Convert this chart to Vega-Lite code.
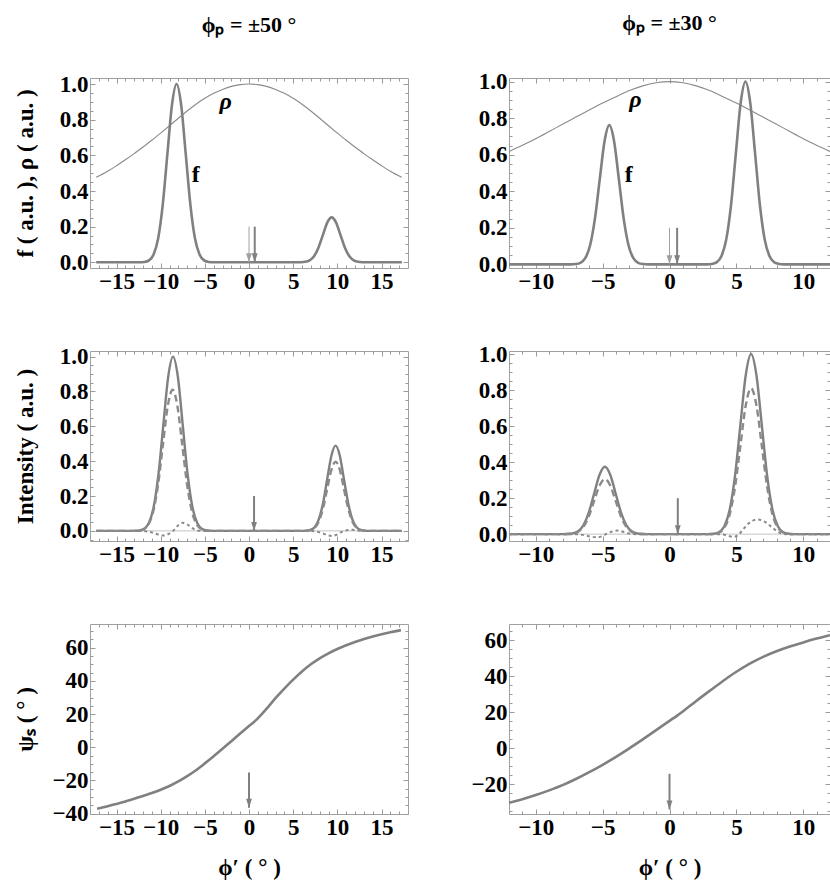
{
  "$schema": "https://vega.github.io/schema/vega-lite/v6.json",
  "padding": {"left": 13, "top": 11, "right": 0, "bottom": 0},
  "autosize": {"type": "pad"},
  "bounds": "flush",
  "columns": 2,
  "spacing": {"row": 83, "column": 101},
  "resolve": {"scale": {"x": "independent", "y": "independent"}},
  "datasets": {
    "tl_rho": [{"x":-17.3,"y":0.477},{"x":-16,"y":0.511},{"x":-15,"y":0.542},{"x":-14,"y":0.575},{"x":-13,"y":0.61},{"x":-12,"y":0.647},{"x":-11,"y":0.685},{"x":-10,"y":0.725},{"x":-9,"y":0.766},{"x":-8,"y":0.808},{"x":-7,"y":0.849},{"x":-6,"y":0.887},{"x":-5,"y":0.92},{"x":-4,"y":0.948},{"x":-3,"y":0.97},{"x":-2,"y":0.987},{"x":-1,"y":0.997},{"x":0,"y":1.0},{"x":1,"y":0.997},{"x":2,"y":0.987},{"x":3,"y":0.97},{"x":4,"y":0.948},{"x":5,"y":0.92},{"x":6,"y":0.887},{"x":7,"y":0.849},{"x":8,"y":0.808},{"x":9,"y":0.766},{"x":10,"y":0.725},{"x":11,"y":0.685},{"x":12,"y":0.647},{"x":13,"y":0.61},{"x":14,"y":0.575},{"x":15,"y":0.542},{"x":16,"y":0.511},{"x":17.3,"y":0.477}],
    "tl_f": [{"x":-17.3,"y":0},{"x":-12.4,"y":0},{"x":-11.84,"y":0.002},{"x":-11.32,"y":0.011},{"x":-10.8,"y":0.044},{"x":-10.28,"y":0.135},{"x":-9.76,"y":0.325},{"x":-9.24,"y":0.607},{"x":-8.72,"y":0.883},{"x":-8.2,"y":1.0},{"x":-7.68,"y":0.883},{"x":-7.16,"y":0.607},{"x":-6.64,"y":0.325},{"x":-6.12,"y":0.135},{"x":-5.6,"y":0.044},{"x":-5.08,"y":0.011},{"x":-4.56,"y":0.002},{"x":-4.0,"y":0},{"x":5.36,"y":0},{"x":5.86,"y":0.0006},{"x":6.36,"y":0.0028},{"x":6.86,"y":0.0111},{"x":7.36,"y":0.0341},{"x":7.86,"y":0.0818},{"x":8.36,"y":0.1528},{"x":8.86,"y":0.2224},{"x":9.36,"y":0.252},{"x":9.86,"y":0.2224},{"x":10.36,"y":0.1528},{"x":10.86,"y":0.0818},{"x":11.36,"y":0.0341},{"x":11.86,"y":0.0111},{"x":12.36,"y":0.0028},{"x":12.86,"y":0.0006},{"x":13.36,"y":0},{"x":17.3,"y":0}],
    "tr_rho": [{"x":-12,"y":0.618},{"x":-11,"y":0.652},{"x":-10,"y":0.688},{"x":-9,"y":0.727},{"x":-8,"y":0.767},{"x":-7,"y":0.806},{"x":-6,"y":0.845},{"x":-5,"y":0.883},{"x":-4,"y":0.918},{"x":-3,"y":0.951},{"x":-2,"y":0.977},{"x":-1,"y":0.994},{"x":0,"y":1.0},{"x":1,"y":0.994},{"x":2,"y":0.977},{"x":3,"y":0.951},{"x":4,"y":0.918},{"x":5,"y":0.883},{"x":6,"y":0.845},{"x":7,"y":0.806},{"x":8,"y":0.767},{"x":9,"y":0.727},{"x":10,"y":0.688},{"x":11,"y":0.652},{"x":12,"y":0.618}],
    "tr_f": [{"x":-12,"y":0},{"x":-7.38,"y":0},{"x":-7.02,"y":0.0017},{"x":-6.66,"y":0.0085},{"x":-6.3,"y":0.0335},{"x":-5.94,"y":0.1031},{"x":-5.58,"y":0.2474},{"x":-5.22,"y":0.4622},{"x":-4.86,"y":0.6725},{"x":-4.5,"y":0.762},{"x":-4.14,"y":0.6725},{"x":-3.78,"y":0.4622},{"x":-3.42,"y":0.2474},{"x":-3.06,"y":0.1031},{"x":-2.7,"y":0.0335},{"x":-2.34,"y":0.0085},{"x":-1.98,"y":0.0017},{"x":-1.62,"y":0},{"x":2.8,"y":0},{"x":3.16,"y":0.0022},{"x":3.52,"y":0.0111},{"x":3.88,"y":0.0439},{"x":4.24,"y":0.1353},{"x":4.6,"y":0.3247},{"x":4.96,"y":0.6065},{"x":5.32,"y":0.8825},{"x":5.68,"y":1.0},{"x":6.04,"y":0.8825},{"x":6.4,"y":0.6065},{"x":6.76,"y":0.3247},{"x":7.12,"y":0.1353},{"x":7.48,"y":0.0439},{"x":7.84,"y":0.0111},{"x":8.2,"y":0.0022},{"x":8.56,"y":0},{"x":12,"y":0}],
    "ml_solid": [{"x":-17.3,"y":0},{"x":-13.0,"y":0},{"x":-12.45,"y":0.002},{"x":-11.9,"y":0.011},{"x":-11.35,"y":0.044},{"x":-10.8,"y":0.135},{"x":-10.25,"y":0.325},{"x":-9.7,"y":0.607},{"x":-9.15,"y":0.883},{"x":-8.6,"y":1.0},{"x":-8.05,"y":0.883},{"x":-7.5,"y":0.607},{"x":-6.95,"y":0.325},{"x":-6.4,"y":0.135},{"x":-5.85,"y":0.044},{"x":-5.3,"y":0.011},{"x":-4.75,"y":0.002},{"x":-4.2,"y":0},{"x":6.0,"y":0},{"x":6.48,"y":0.0011},{"x":6.95,"y":0.0054},{"x":7.43,"y":0.0215},{"x":7.9,"y":0.0662},{"x":8.38,"y":0.1588},{"x":8.85,"y":0.2966},{"x":9.33,"y":0.4315},{"x":9.8,"y":0.489},{"x":10.28,"y":0.4315},{"x":10.75,"y":0.2966},{"x":11.23,"y":0.1588},{"x":11.7,"y":0.0662},{"x":12.18,"y":0.0215},{"x":12.65,"y":0.0054},{"x":13.13,"y":0.0011},{"x":13.6,"y":0},{"x":17.3,"y":0}],
    "ml_dashed": [{"x":-17.3,"y":0},{"x":-13.05,"y":0},{"x":-12.5,"y":0.0018},{"x":-11.95,"y":0.009},{"x":-11.4,"y":0.0356},{"x":-10.85,"y":0.1096},{"x":-10.3,"y":0.263},{"x":-9.75,"y":0.4913},{"x":-9.2,"y":0.7148},{"x":-8.65,"y":0.81},{"x":-8.1,"y":0.7148},{"x":-7.55,"y":0.4913},{"x":-7.0,"y":0.263},{"x":-6.45,"y":0.1096},{"x":-5.9,"y":0.0356},{"x":-5.35,"y":0.009},{"x":-4.8,"y":0.0018},{"x":-4.25,"y":0},{"x":6.0,"y":0},{"x":6.48,"y":0.0009},{"x":6.95,"y":0.0044},{"x":7.43,"y":0.0174},{"x":7.9,"y":0.0537},{"x":8.38,"y":0.1289},{"x":8.85,"y":0.2408},{"x":9.33,"y":0.3504},{"x":9.8,"y":0.397},{"x":10.28,"y":0.3504},{"x":10.75,"y":0.2408},{"x":11.23,"y":0.1289},{"x":11.7,"y":0.0537},{"x":12.18,"y":0.0174},{"x":12.65,"y":0.0044},{"x":13.13,"y":0.0009},{"x":13.6,"y":0},{"x":17.3,"y":0}],
    "ml_dotted": [{"x":-17.3,"y":0},{"x":-12.5,"y":0},{"x":-11.5,"y":-0.003},{"x":-10.8,"y":-0.012},{"x":-10.2,"y":-0.022},{"x":-9.6,"y":-0.026},{"x":-9.1,"y":-0.017},{"x":-8.6,"y":0.0},{"x":-8.0,"y":0.032},{"x":-7.5,"y":0.046},{"x":-7.0,"y":0.038},{"x":-6.5,"y":0.018},{"x":-6.0,"y":0.005},{"x":-5.5,"y":0},{"x":7.0,"y":0},{"x":7.6,"y":-0.004},{"x":8.3,"y":-0.014},{"x":8.9,"y":-0.025},{"x":9.4,"y":-0.029},{"x":9.9,"y":-0.022},{"x":10.4,"y":-0.008},{"x":10.8,"y":0.0},{"x":11.3,"y":0.005},{"x":11.7,"y":0.006},{"x":12.2,"y":0.003},{"x":12.8,"y":0},{"x":17.3,"y":0}],
    "mr_solid": [{"x":-12,"y":0},{"x":-8.03,"y":0},{"x":-7.63,"y":0.0008},{"x":-7.23,"y":0.0042},{"x":-6.83,"y":0.0164},{"x":-6.43,"y":0.0506},{"x":-6.03,"y":0.1214},{"x":-5.63,"y":0.2268},{"x":-5.23,"y":0.3301},{"x":-4.83,"y":0.374},{"x":-4.43,"y":0.3301},{"x":-4.03,"y":0.2268},{"x":-3.63,"y":0.1214},{"x":-3.23,"y":0.0506},{"x":-2.83,"y":0.0164},{"x":-2.43,"y":0.0042},{"x":-2.03,"y":0.0008},{"x":-1.63,"y":0},{"x":2.9,"y":0},{"x":3.3,"y":0.0022},{"x":3.7,"y":0.0111},{"x":4.1,"y":0.0439},{"x":4.5,"y":0.1353},{"x":4.9,"y":0.3247},{"x":5.3,"y":0.6065},{"x":5.7,"y":0.8825},{"x":6.1,"y":1.0},{"x":6.5,"y":0.8825},{"x":6.9,"y":0.6065},{"x":7.3,"y":0.3247},{"x":7.7,"y":0.1353},{"x":8.1,"y":0.0439},{"x":8.5,"y":0.0111},{"x":8.9,"y":0.0022},{"x":9.3,"y":0},{"x":12,"y":0}],
    "mr_dashed": [{"x":-12,"y":0},{"x":-8.03,"y":0},{"x":-7.63,"y":0.0007},{"x":-7.23,"y":0.0034},{"x":-6.83,"y":0.0134},{"x":-6.43,"y":0.0414},{"x":-6.03,"y":0.0994},{"x":-5.63,"y":0.1857},{"x":-5.23,"y":0.27},{"x":-4.83,"y":0.306},{"x":-4.43,"y":0.27},{"x":-4.03,"y":0.1857},{"x":-3.63,"y":0.0994},{"x":-3.23,"y":0.0414},{"x":-2.83,"y":0.0134},{"x":-2.43,"y":0.0034},{"x":-2.03,"y":0.0007},{"x":-1.63,"y":0},{"x":2.9,"y":0},{"x":3.3,"y":0.0018},{"x":3.7,"y":0.009},{"x":4.1,"y":0.0356},{"x":4.5,"y":0.1096},{"x":4.9,"y":0.263},{"x":5.3,"y":0.4913},{"x":5.7,"y":0.7148},{"x":6.1,"y":0.81},{"x":6.5,"y":0.7148},{"x":6.9,"y":0.4913},{"x":7.3,"y":0.263},{"x":7.7,"y":0.1096},{"x":8.1,"y":0.0356},{"x":8.5,"y":0.009},{"x":8.9,"y":0.0018},{"x":9.3,"y":0},{"x":12,"y":0}],
    "mr_dotted": [{"x":-12,"y":0},{"x":-7.2,"y":0},{"x":-6.5,"y":-0.004},{"x":-5.9,"y":-0.013},{"x":-5.4,"y":-0.018},{"x":-5.0,"y":-0.01},{"x":-4.75,"y":0.0},{"x":-4.4,"y":0.012},{"x":-3.9,"y":0.02},{"x":-3.4,"y":0.012},{"x":-2.9,"y":0.002},{"x":-2.5,"y":0},{"x":3.9,"y":0},{"x":4.3,"y":-0.008},{"x":4.8,"y":-0.015},{"x":5.2,"y":0.0},{"x":5.6,"y":0.035},{"x":6.1,"y":0.07},{"x":6.6,"y":0.081},{"x":7.1,"y":0.07},{"x":7.6,"y":0.042},{"x":8.0,"y":0.018},{"x":8.4,"y":0.003},{"x":8.7,"y":0},{"x":12,"y":0}],
    "bl_psi": [{"x":-17.2,"y":-37.0},{"x":-16,"y":-35.5},{"x":-14,"y":-32.7},{"x":-12,"y":-29.3},{"x":-11,"y":-27.6},{"x":-10,"y":-25.6},{"x":-9,"y":-23.3},{"x":-8,"y":-20.6},{"x":-7,"y":-17.4},{"x":-6,"y":-13.8},{"x":-5,"y":-9.7},{"x":-4,"y":-5.4},{"x":-3,"y":-0.9},{"x":-2,"y":3.7},{"x":-1,"y":8.3},{"x":0,"y":12.8},{"x":0.7,"y":15.9},{"x":1.5,"y":20.3},{"x":2,"y":23.3},{"x":3,"y":29.6},{"x":4,"y":35.4},{"x":5,"y":40.8},{"x":6,"y":45.7},{"x":7,"y":50.0},{"x":8,"y":53.6},{"x":9,"y":56.6},{"x":10,"y":59.2},{"x":12,"y":63.4},{"x":14,"y":66.7},{"x":16,"y":69.3},{"x":17.2,"y":70.6}],
    "br_psi": [{"x":-12,"y":-30.2},{"x":-11,"y":-28.3},{"x":-10,"y":-26.0},{"x":-9,"y":-23.4},{"x":-8,"y":-20.5},{"x":-7,"y":-17.1},{"x":-6,"y":-13.3},{"x":-5,"y":-9.2},{"x":-4,"y":-4.8},{"x":-3,"y":-0.1},{"x":-2,"y":4.9},{"x":-1,"y":10.0},{"x":0,"y":15.2},{"x":0.6,"y":18.2},{"x":1,"y":20.4},{"x":2,"y":26.2},{"x":3,"y":31.8},{"x":4,"y":37.3},{"x":5,"y":42.4},{"x":6,"y":46.9},{"x":7,"y":50.7},{"x":8,"y":53.8},{"x":9,"y":56.4},{"x":10,"y":58.7},{"x":11,"y":60.8},{"x":12,"y":62.7}],
    "arrows": [
      {"panel":"tl","kind":"thin","x":0,"y":0,"y2":0.2},
      {"panel":"tl","kind":"thick","x":0.65,"y":0,"y2":0.2},
      {"panel":"tr","kind":"thin","x":0,"y":0,"y2":0.2},
      {"panel":"tr","kind":"thick","x":0.57,"y":0,"y2":0.2},
      {"panel":"ml","kind":"thick","x":0.57,"y":0,"y2":0.2},
      {"panel":"mr","kind":"thick","x":0.62,"y":0,"y2":0.2},
      {"panel":"bl","kind":"thick","x":0,"y":-36.5,"y2":-15.2},
      {"panel":"br","kind":"thick","x":0,"y":-34,"y2":-14.2}
    ],
    "labels": [
      {"panel":"tl","t":"ρ","x":-2.64,"y":0.9},
      {"panel":"tl","t":"f","x":-6.03,"y":0.49},
      {"panel":"tr","t":"ρ","x":-2.54,"y":0.9},
      {"panel":"tr","t":"f","x":-3.04,"y":0.49}
    ],
    "anchor": [{"x": 0, "y": 0}]
  },
  "concat": [
    {
      "width": 318, "height": 190,
      "title": {"text": "ϕₚ = ±50 °", "frame": "group", "offset": 36, "anchor": "middle"},
      "resolve": {"axis": {"x": "independent", "y": "independent"}},
      "layer": [
        {
          "encoding": {
            "x": {"field": "x", "type": "quantitative", "scale": {"domain": [-18, 18], "nice": false, "zero": false}, "axis": {"values": [-15,-10,-5,0,5,10,15], "labelExpr": "datum.value < 0 ? '−' + abs(datum.value) : '' + datum.value", "title": null}},
            "y": {"field": "y", "type": "quantitative", "scale": {"domain": [-0.032, 1.034], "nice": false, "zero": false}, "axis": {"values": [0,0.2,0.4,0.6,0.8,1], "format": ".1f", "title": "f ( a.u. ),  ρ ( a.u. )", "minExtent": 45, "maxExtent": 45, "titlePadding": 8}}
          },
          "layer": [
            {"data": {"name": "tl_rho"}, "mark": {"type": "line", "color": "#8a8a8a", "strokeWidth": 1.1, "interpolate": "monotone"}},
            {"data": {"name": "tl_f"}, "mark": {"type": "line", "color": "#808080", "strokeWidth": 2.6, "interpolate": "monotone"}},
            {"data": {"name": "arrows"}, "transform": [{"filter": "datum.panel === 'tl' && datum.kind === 'thin'"}], "mark": {"type": "rule", "color": "#a0a0a0", "strokeWidth": 1}, "encoding": {"y2": {"field": "y2"}}},
            {"data": {"name": "arrows"}, "transform": [{"filter": "datum.panel === 'tl' && datum.kind === 'thin'"}], "mark": {"type": "point", "shape": "M-0.65,-2L0.65,-2L0,0Z", "filled": true, "size": 81, "color": "#a0a0a0", "opacity": 1}},
            {"data": {"name": "arrows"}, "transform": [{"filter": "datum.panel === 'tl' && datum.kind === 'thick'"}], "mark": {"type": "rule", "color": "#808080", "strokeWidth": 2}, "encoding": {"y2": {"field": "y2"}}},
            {"data": {"name": "arrows"}, "transform": [{"filter": "datum.panel === 'tl' && datum.kind === 'thick'"}], "mark": {"type": "point", "shape": "M-0.65,-2L0.65,-2L0,0Z", "filled": true, "size": 81, "color": "#808080", "opacity": 1}},
            {"data": {"name": "labels"}, "transform": [{"filter": "datum.panel === 'tl' && datum.t === 'ρ'"}], "mark": {"type": "text", "font": "Liberation Serif", "fontSize": 24, "fontWeight": "bold", "fontStyle": "italic", "color": "#000"}, "encoding": {"text": {"field": "t"}}},
            {"data": {"name": "labels"}, "transform": [{"filter": "datum.panel === 'tl' && datum.t === 'f'"}], "mark": {"type": "text", "font": "Liberation Serif", "fontSize": 24, "fontWeight": "bold", "color": "#000"}, "encoding": {"text": {"field": "t"}}}
          ]
        },
        {"data": {"name": "anchor"}, "mark": {"type": "point", "opacity": 0},
         "encoding": {"x": {"field": "x", "type": "quantitative", "scale": {"domain": [-18, 18], "nice": false, "zero": false}, "axis": {"orient": "bottom", "values": [-17,-16,-14,-13,-12,-11,-9,-8,-7,-6,-4,-3,-2,-1,1,2,3,4,6,7,8,9,11,12,13,14,16,17], "labels": false, "tickSize": -3, "title": null}},
                      "y": {"field": "y", "type": "quantitative", "scale": {"domain": [-0.032, 1.034], "nice": false, "zero": false}, "axis": {"orient": "left", "values": [0.05,0.1,0.15,0.25,0.3,0.35,0.45,0.5,0.55,0.65,0.7,0.75,0.85,0.9,0.95], "labels": false, "tickSize": -3, "title": null}}}},
        {"data": {"name": "anchor"}, "mark": {"type": "point", "opacity": 0},
         "encoding": {"x": {"field": "x", "type": "quantitative", "scale": {"domain": [-18, 18], "nice": false, "zero": false}, "axis": {"orient": "top", "values": [-15,-10,-5,0,5,10,15], "labels": false, "tickSize": -5, "title": null}},
                      "y": {"field": "y", "type": "quantitative", "scale": {"domain": [-0.032, 1.034], "nice": false, "zero": false}, "axis": {"orient": "right", "values": [0,0.2,0.4,0.6,0.8,1], "labels": false, "tickSize": -5, "title": null}}}},
        {"data": {"name": "anchor"}, "mark": {"type": "point", "opacity": 0},
         "encoding": {"x": {"field": "x", "type": "quantitative", "scale": {"domain": [-18, 18], "nice": false, "zero": false}, "axis": {"orient": "top", "values": [-17,-16,-14,-13,-12,-11,-9,-8,-7,-6,-4,-3,-2,-1,1,2,3,4,6,7,8,9,11,12,13,14,16,17], "labels": false, "tickSize": -3, "title": null}},
                      "y": {"field": "y", "type": "quantitative", "scale": {"domain": [-0.032, 1.034], "nice": false, "zero": false}, "axis": {"orient": "right", "values": [0.05,0.1,0.15,0.25,0.3,0.35,0.45,0.5,0.55,0.65,0.7,0.75,0.85,0.9,0.95], "labels": false, "tickSize": -3, "title": null}}}}
      ]
    },
    {
      "width": 321, "height": 190,
      "title": {"text": "ϕₚ = ±30 °", "frame": "group", "offset": 36, "anchor": "middle"},
      "resolve": {"axis": {"x": "independent", "y": "independent"}},
      "layer": [
        {
          "encoding": {
            "x": {"field": "x", "type": "quantitative", "scale": {"domain": [-12, 12], "nice": false, "zero": false}, "axis": {"values": [-10,-5,0,5,10], "labelExpr": "datum.value < 0 ? '−' + abs(datum.value) : '' + datum.value", "title": null}},
            "y": {"field": "y", "type": "quantitative", "scale": {"domain": [-0.02, 1.02], "nice": false, "zero": false}, "axis": {"values": [0,0.2,0.4,0.6,0.8,1], "format": ".1f", "title": null}}
          },
          "layer": [
            {"data": {"name": "tr_rho"}, "mark": {"type": "line", "color": "#8a8a8a", "strokeWidth": 1.1, "interpolate": "monotone"}},
            {"data": {"name": "tr_f"}, "mark": {"type": "line", "color": "#808080", "strokeWidth": 2.6, "interpolate": "monotone"}},
            {"data": {"name": "arrows"}, "transform": [{"filter": "datum.panel === 'tr' && datum.kind === 'thin'"}], "mark": {"type": "rule", "color": "#a0a0a0", "strokeWidth": 1}, "encoding": {"y2": {"field": "y2"}}},
            {"data": {"name": "arrows"}, "transform": [{"filter": "datum.panel === 'tr' && datum.kind === 'thin'"}], "mark": {"type": "point", "shape": "M-0.65,-2L0.65,-2L0,0Z", "filled": true, "size": 81, "color": "#a0a0a0", "opacity": 1}},
            {"data": {"name": "arrows"}, "transform": [{"filter": "datum.panel === 'tr' && datum.kind === 'thick'"}], "mark": {"type": "rule", "color": "#808080", "strokeWidth": 2}, "encoding": {"y2": {"field": "y2"}}},
            {"data": {"name": "arrows"}, "transform": [{"filter": "datum.panel === 'tr' && datum.kind === 'thick'"}], "mark": {"type": "point", "shape": "M-0.65,-2L0.65,-2L0,0Z", "filled": true, "size": 81, "color": "#808080", "opacity": 1}},
            {"data": {"name": "labels"}, "transform": [{"filter": "datum.panel === 'tr' && datum.t === 'ρ'"}], "mark": {"type": "text", "font": "Liberation Serif", "fontSize": 24, "fontWeight": "bold", "fontStyle": "italic", "color": "#000"}, "encoding": {"text": {"field": "t"}}},
            {"data": {"name": "labels"}, "transform": [{"filter": "datum.panel === 'tr' && datum.t === 'f'"}], "mark": {"type": "text", "font": "Liberation Serif", "fontSize": 24, "fontWeight": "bold", "color": "#000"}, "encoding": {"text": {"field": "t"}}}
          ]
        },
        {"data": {"name": "anchor"}, "mark": {"type": "point", "opacity": 0},
         "encoding": {"x": {"field": "x", "type": "quantitative", "scale": {"domain": [-12, 12], "nice": false, "zero": false}, "axis": {"orient": "bottom", "values": [-11,-9,-8,-7,-6,-4,-3,-2,-1,1,2,3,4,6,7,8,9,11], "labels": false, "tickSize": -3, "title": null}},
                      "y": {"field": "y", "type": "quantitative", "scale": {"domain": [-0.02, 1.02], "nice": false, "zero": false}, "axis": {"orient": "left", "values": [0.05,0.1,0.15,0.25,0.3,0.35,0.45,0.5,0.55,0.65,0.7,0.75,0.85,0.9,0.95], "labels": false, "tickSize": -3, "title": null}}}},
        {"data": {"name": "anchor"}, "mark": {"type": "point", "opacity": 0},
         "encoding": {"x": {"field": "x", "type": "quantitative", "scale": {"domain": [-12, 12], "nice": false, "zero": false}, "axis": {"orient": "top", "values": [-10,-5,0,5,10], "labels": false, "tickSize": -5, "title": null}},
                      "y": {"field": "y", "type": "quantitative", "scale": {"domain": [-0.02, 1.02], "nice": false, "zero": false}, "axis": {"orient": "right", "values": [0,0.2,0.4,0.6,0.8,1], "labels": false, "tickSize": -5, "title": null}}}},
        {"data": {"name": "anchor"}, "mark": {"type": "point", "opacity": 0},
         "encoding": {"x": {"field": "x", "type": "quantitative", "scale": {"domain": [-12, 12], "nice": false, "zero": false}, "axis": {"orient": "top", "values": [-11,-9,-8,-7,-6,-4,-3,-2,-1,1,2,3,4,6,7,8,9,11], "labels": false, "tickSize": -3, "title": null}},
                      "y": {"field": "y", "type": "quantitative", "scale": {"domain": [-0.02, 1.02], "nice": false, "zero": false}, "axis": {"orient": "right", "values": [0.05,0.1,0.15,0.25,0.3,0.35,0.45,0.5,0.55,0.65,0.7,0.75,0.85,0.9,0.95], "labels": false, "tickSize": -3, "title": null}}}}
      ]
    },
    {
      "width": 318, "height": 190,
      "resolve": {"axis": {"x": "independent", "y": "independent"}},
      "layer": [
        {
          "encoding": {
            "x": {"field": "x", "type": "quantitative", "scale": {"domain": [-18, 18], "nice": false, "zero": false}, "axis": {"values": [-15,-10,-5,0,5,10,15], "labelExpr": "datum.value < 0 ? '−' + abs(datum.value) : '' + datum.value", "title": null}},
            "y": {"field": "y", "type": "quantitative", "scale": {"domain": [-0.058, 1.032], "nice": false, "zero": false}, "axis": {"values": [0,0.2,0.4,0.6,0.8,1], "format": ".1f", "title": "Intensity ( a.u. )", "minExtent": 45, "maxExtent": 45, "titlePadding": 8}}
          },
          "layer": [
            {"data": {"values": [{"x": -17.3, "y": 0}, {"x": 17.3, "y": 0}]}, "mark": {"type": "line", "color": "#c4c4c4", "strokeWidth": 1}},
            {"data": {"name": "ml_solid"}, "mark": {"type": "line", "color": "#808080", "strokeWidth": 2.4, "interpolate": "monotone"}},
            {"data": {"name": "ml_dashed"}, "mark": {"type": "line", "color": "#8a8a8a", "strokeWidth": 2.4, "strokeDash": [7, 4], "interpolate": "monotone"}},
            {"data": {"name": "ml_dotted"}, "mark": {"type": "line", "color": "#8a8a8a", "strokeWidth": 2, "strokeDash": [3, 3], "interpolate": "monotone"}},
            {"data": {"name": "arrows"}, "transform": [{"filter": "datum.panel === 'ml'"}], "mark": {"type": "rule", "color": "#808080", "strokeWidth": 2}, "encoding": {"y2": {"field": "y2"}}},
            {"data": {"name": "arrows"}, "transform": [{"filter": "datum.panel === 'ml'"}], "mark": {"type": "point", "shape": "M-0.65,-2L0.65,-2L0,0Z", "filled": true, "size": 81, "color": "#808080", "opacity": 1}}
          ]
        },
        {"data": {"name": "anchor"}, "mark": {"type": "point", "opacity": 0},
         "encoding": {"x": {"field": "x", "type": "quantitative", "scale": {"domain": [-18, 18], "nice": false, "zero": false}, "axis": {"orient": "bottom", "values": [-17,-16,-14,-13,-12,-11,-9,-8,-7,-6,-4,-3,-2,-1,1,2,3,4,6,7,8,9,11,12,13,14,16,17], "labels": false, "tickSize": -3, "title": null}},
                      "y": {"field": "y", "type": "quantitative", "scale": {"domain": [-0.058, 1.032], "nice": false, "zero": false}, "axis": {"orient": "left", "values": [-0.05,0.05,0.1,0.15,0.25,0.3,0.35,0.45,0.5,0.55,0.65,0.7,0.75,0.85,0.9,0.95], "labels": false, "tickSize": -3, "title": null}}}},
        {"data": {"name": "anchor"}, "mark": {"type": "point", "opacity": 0},
         "encoding": {"x": {"field": "x", "type": "quantitative", "scale": {"domain": [-18, 18], "nice": false, "zero": false}, "axis": {"orient": "top", "values": [-15,-10,-5,0,5,10,15], "labels": false, "tickSize": -5, "title": null}},
                      "y": {"field": "y", "type": "quantitative", "scale": {"domain": [-0.058, 1.032], "nice": false, "zero": false}, "axis": {"orient": "right", "values": [0,0.2,0.4,0.6,0.8,1], "labels": false, "tickSize": -5, "title": null}}}},
        {"data": {"name": "anchor"}, "mark": {"type": "point", "opacity": 0},
         "encoding": {"x": {"field": "x", "type": "quantitative", "scale": {"domain": [-18, 18], "nice": false, "zero": false}, "axis": {"orient": "top", "values": [-17,-16,-14,-13,-12,-11,-9,-8,-7,-6,-4,-3,-2,-1,1,2,3,4,6,7,8,9,11,12,13,14,16,17], "labels": false, "tickSize": -3, "title": null}},
                      "y": {"field": "y", "type": "quantitative", "scale": {"domain": [-0.058, 1.032], "nice": false, "zero": false}, "axis": {"orient": "right", "values": [-0.05,0.05,0.1,0.15,0.25,0.3,0.35,0.45,0.5,0.55,0.65,0.7,0.75,0.85,0.9,0.95], "labels": false, "tickSize": -3, "title": null}}}}
      ]
    },
    {
      "width": 321, "height": 190,
      "resolve": {"axis": {"x": "independent", "y": "independent"}},
      "layer": [
        {
          "encoding": {
            "x": {"field": "x", "type": "quantitative", "scale": {"domain": [-12, 12], "nice": false, "zero": false}, "axis": {"values": [-10,-5,0,5,10], "labelExpr": "datum.value < 0 ? '−' + abs(datum.value) : '' + datum.value", "title": null}},
            "y": {"field": "y", "type": "quantitative", "scale": {"domain": [-0.038, 1.017], "nice": false, "zero": false}, "axis": {"values": [0,0.2,0.4,0.6,0.8,1], "format": ".1f", "title": null}}
          },
          "layer": [
            {"data": {"values": [{"x": -12, "y": 0}, {"x": 12, "y": 0}]}, "mark": {"type": "line", "color": "#c4c4c4", "strokeWidth": 1}},
            {"data": {"name": "mr_solid"}, "mark": {"type": "line", "color": "#808080", "strokeWidth": 2.4, "interpolate": "monotone"}},
            {"data": {"name": "mr_dashed"}, "mark": {"type": "line", "color": "#8a8a8a", "strokeWidth": 2.4, "strokeDash": [7, 4], "interpolate": "monotone"}},
            {"data": {"name": "mr_dotted"}, "mark": {"type": "line", "color": "#8a8a8a", "strokeWidth": 2, "strokeDash": [3, 3], "interpolate": "monotone"}},
            {"data": {"name": "arrows"}, "transform": [{"filter": "datum.panel === 'mr'"}], "mark": {"type": "rule", "color": "#808080", "strokeWidth": 2}, "encoding": {"y2": {"field": "y2"}}},
            {"data": {"name": "arrows"}, "transform": [{"filter": "datum.panel === 'mr'"}], "mark": {"type": "point", "shape": "M-0.65,-2L0.65,-2L0,0Z", "filled": true, "size": 81, "color": "#808080", "opacity": 1}}
          ]
        },
        {"data": {"name": "anchor"}, "mark": {"type": "point", "opacity": 0},
         "encoding": {"x": {"field": "x", "type": "quantitative", "scale": {"domain": [-12, 12], "nice": false, "zero": false}, "axis": {"orient": "bottom", "values": [-11,-9,-8,-7,-6,-4,-3,-2,-1,1,2,3,4,6,7,8,9,11], "labels": false, "tickSize": -3, "title": null}},
                      "y": {"field": "y", "type": "quantitative", "scale": {"domain": [-0.038, 1.017], "nice": false, "zero": false}, "axis": {"orient": "left", "values": [0.05,0.1,0.15,0.25,0.3,0.35,0.45,0.5,0.55,0.65,0.7,0.75,0.85,0.9,0.95], "labels": false, "tickSize": -3, "title": null}}}},
        {"data": {"name": "anchor"}, "mark": {"type": "point", "opacity": 0},
         "encoding": {"x": {"field": "x", "type": "quantitative", "scale": {"domain": [-12, 12], "nice": false, "zero": false}, "axis": {"orient": "top", "values": [-10,-5,0,5,10], "labels": false, "tickSize": -5, "title": null}},
                      "y": {"field": "y", "type": "quantitative", "scale": {"domain": [-0.038, 1.017], "nice": false, "zero": false}, "axis": {"orient": "right", "values": [0,0.2,0.4,0.6,0.8,1], "labels": false, "tickSize": -5, "title": null}}}},
        {"data": {"name": "anchor"}, "mark": {"type": "point", "opacity": 0},
         "encoding": {"x": {"field": "x", "type": "quantitative", "scale": {"domain": [-12, 12], "nice": false, "zero": false}, "axis": {"orient": "top", "values": [-11,-9,-8,-7,-6,-4,-3,-2,-1,1,2,3,4,6,7,8,9,11], "labels": false, "tickSize": -3, "title": null}},
                      "y": {"field": "y", "type": "quantitative", "scale": {"domain": [-0.038, 1.017], "nice": false, "zero": false}, "axis": {"orient": "right", "values": [0.05,0.1,0.15,0.25,0.3,0.35,0.45,0.5,0.55,0.65,0.7,0.75,0.85,0.9,0.95], "labels": false, "tickSize": -3, "title": null}}}}
      ]
    },
    {
      "width": 318, "height": 190,
      "resolve": {"axis": {"x": "independent", "y": "independent"}},
      "layer": [
        {
          "encoding": {
            "x": {"field": "x", "type": "quantitative", "scale": {"domain": [-18, 18], "nice": false, "zero": false}, "axis": {"values": [-15,-10,-5,0,5,10,15], "labelExpr": "datum.value < 0 ? '−' + abs(datum.value) : '' + datum.value", "title": "ϕ′ ( ° )", "minExtent": 28, "maxExtent": 28, "titlePadding": 14}},
            "y": {"field": "y", "type": "quantitative", "scale": {"domain": [-40.2, 74.3], "nice": false, "zero": false}, "axis": {"values": [-40,-20,0,20,40,60], "labelExpr": "datum.value < 0 ? '−' + abs(datum.value) : '' + datum.value", "title": "ψₛ ( ° )", "minExtent": 45, "maxExtent": 45, "titlePadding": 8}}
          },
          "layer": [
            {"data": {"name": "bl_psi"}, "mark": {"type": "line", "color": "#808080", "strokeWidth": 2.6, "interpolate": "monotone"}},
            {"data": {"name": "arrows"}, "transform": [{"filter": "datum.panel === 'bl'"}], "mark": {"type": "rule", "color": "#808080", "strokeWidth": 2}, "encoding": {"y2": {"field": "y2"}}},
            {"data": {"name": "arrows"}, "transform": [{"filter": "datum.panel === 'bl'"}], "mark": {"type": "point", "shape": "M-0.65,-2L0.65,-2L0,0Z", "filled": true, "size": 81, "color": "#808080", "opacity": 1}}
          ]
        },
        {"data": {"name": "anchor"}, "mark": {"type": "point", "opacity": 0},
         "encoding": {"x": {"field": "x", "type": "quantitative", "scale": {"domain": [-18, 18], "nice": false, "zero": false}, "axis": {"orient": "bottom", "values": [-17,-16,-14,-13,-12,-11,-9,-8,-7,-6,-4,-3,-2,-1,1,2,3,4,6,7,8,9,11,12,13,14,16,17], "labels": false, "tickSize": -3, "title": null}},
                      "y": {"field": "y", "type": "quantitative", "scale": {"domain": [-40.2, 74.3], "nice": false, "zero": false}, "axis": {"orient": "left", "values": [-35,-30,-25,-15,-10,-5,5,10,15,25,30,35,45,50,55,65,70], "labels": false, "tickSize": -3, "title": null}}}},
        {"data": {"name": "anchor"}, "mark": {"type": "point", "opacity": 0},
         "encoding": {"x": {"field": "x", "type": "quantitative", "scale": {"domain": [-18, 18], "nice": false, "zero": false}, "axis": {"orient": "top", "values": [-15,-10,-5,0,5,10,15], "labels": false, "tickSize": -5, "title": null}},
                      "y": {"field": "y", "type": "quantitative", "scale": {"domain": [-40.2, 74.3], "nice": false, "zero": false}, "axis": {"orient": "right", "values": [-40,-20,0,20,40,60], "labels": false, "tickSize": -5, "title": null}}}},
        {"data": {"name": "anchor"}, "mark": {"type": "point", "opacity": 0},
         "encoding": {"x": {"field": "x", "type": "quantitative", "scale": {"domain": [-18, 18], "nice": false, "zero": false}, "axis": {"orient": "top", "values": [-17,-16,-14,-13,-12,-11,-9,-8,-7,-6,-4,-3,-2,-1,1,2,3,4,6,7,8,9,11,12,13,14,16,17], "labels": false, "tickSize": -3, "title": null}},
                      "y": {"field": "y", "type": "quantitative", "scale": {"domain": [-40.2, 74.3], "nice": false, "zero": false}, "axis": {"orient": "right", "values": [-35,-30,-25,-15,-10,-5,5,10,15,25,30,35,45,50,55,65,70], "labels": false, "tickSize": -3, "title": null}}}}
      ]
    },
    {
      "width": 321, "height": 190,
      "resolve": {"axis": {"x": "independent", "y": "independent"}},
      "layer": [
        {
          "encoding": {
            "x": {"field": "x", "type": "quantitative", "scale": {"domain": [-12, 12], "nice": false, "zero": false}, "axis": {"values": [-10,-5,0,5,10], "labelExpr": "datum.value < 0 ? '−' + abs(datum.value) : '' + datum.value", "title": "ϕ′ ( ° )", "minExtent": 28, "maxExtent": 28, "titlePadding": 14}},
            "y": {"field": "y", "type": "quantitative", "scale": {"domain": [-36.5, 68.9], "nice": false, "zero": false}, "axis": {"values": [-20,0,20,40,60], "labelExpr": "datum.value < 0 ? '−' + abs(datum.value) : '' + datum.value", "title": null}}
          },
          "layer": [
            {"data": {"name": "br_psi"}, "mark": {"type": "line", "color": "#808080", "strokeWidth": 2.6, "interpolate": "monotone"}},
            {"data": {"name": "arrows"}, "transform": [{"filter": "datum.panel === 'br'"}], "mark": {"type": "rule", "color": "#808080", "strokeWidth": 2}, "encoding": {"y2": {"field": "y2"}}},
            {"data": {"name": "arrows"}, "transform": [{"filter": "datum.panel === 'br'"}], "mark": {"type": "point", "shape": "M-0.65,-2L0.65,-2L0,0Z", "filled": true, "size": 81, "color": "#808080", "opacity": 1}}
          ]
        },
        {"data": {"name": "anchor"}, "mark": {"type": "point", "opacity": 0},
         "encoding": {"x": {"field": "x", "type": "quantitative", "scale": {"domain": [-12, 12], "nice": false, "zero": false}, "axis": {"orient": "bottom", "values": [-11,-9,-8,-7,-6,-4,-3,-2,-1,1,2,3,4,6,7,8,9,11], "labels": false, "tickSize": -3, "title": null}},
                      "y": {"field": "y", "type": "quantitative", "scale": {"domain": [-36.5, 68.9], "nice": false, "zero": false}, "axis": {"orient": "left", "values": [-35,-30,-25,-15,-10,-5,5,10,15,25,30,35,45,50,55,65], "labels": false, "tickSize": -3, "title": null}}}},
        {"data": {"name": "anchor"}, "mark": {"type": "point", "opacity": 0},
         "encoding": {"x": {"field": "x", "type": "quantitative", "scale": {"domain": [-12, 12], "nice": false, "zero": false}, "axis": {"orient": "top", "values": [-10,-5,0,5,10], "labels": false, "tickSize": -5, "title": null}},
                      "y": {"field": "y", "type": "quantitative", "scale": {"domain": [-36.5, 68.9], "nice": false, "zero": false}, "axis": {"orient": "right", "values": [-20,0,20,40,60], "labels": false, "tickSize": -5, "title": null}}}},
        {"data": {"name": "anchor"}, "mark": {"type": "point", "opacity": 0},
         "encoding": {"x": {"field": "x", "type": "quantitative", "scale": {"domain": [-12, 12], "nice": false, "zero": false}, "axis": {"orient": "top", "values": [-11,-9,-8,-7,-6,-4,-3,-2,-1,1,2,3,4,6,7,8,9,11], "labels": false, "tickSize": -3, "title": null}},
                      "y": {"field": "y", "type": "quantitative", "scale": {"domain": [-36.5, 68.9], "nice": false, "zero": false}, "axis": {"orient": "right", "values": [-35,-30,-25,-15,-10,-5,5,10,15,25,30,35,45,50,55,65], "labels": false, "tickSize": -3, "title": null}}}}
      ]
    }
  ],
  "config": {
    "font": "Liberation Serif",
    "view": {"stroke": "#a0a0a0", "strokeWidth": 1},
    "axis": {"domain": false, "grid": false, "ticks": true, "tickColor": "#999999", "tickSize": -5, "tickWidth": 1, "labelOverlap": false, "labelBound": false, "labelFlush": false, "labelFont": "Liberation Serif", "labelFontSize": 23, "labelFontWeight": "bold", "labelColor": "#000000", "labelPadding": 7, "titleFont": "Liberation Serif", "titleFontSize": 23, "titleFontWeight": "bold", "titleColor": "#000000"},
    "title": {"font": "Liberation Serif", "fontSize": 22, "fontWeight": "bold", "color": "#000000"}
  }
}
